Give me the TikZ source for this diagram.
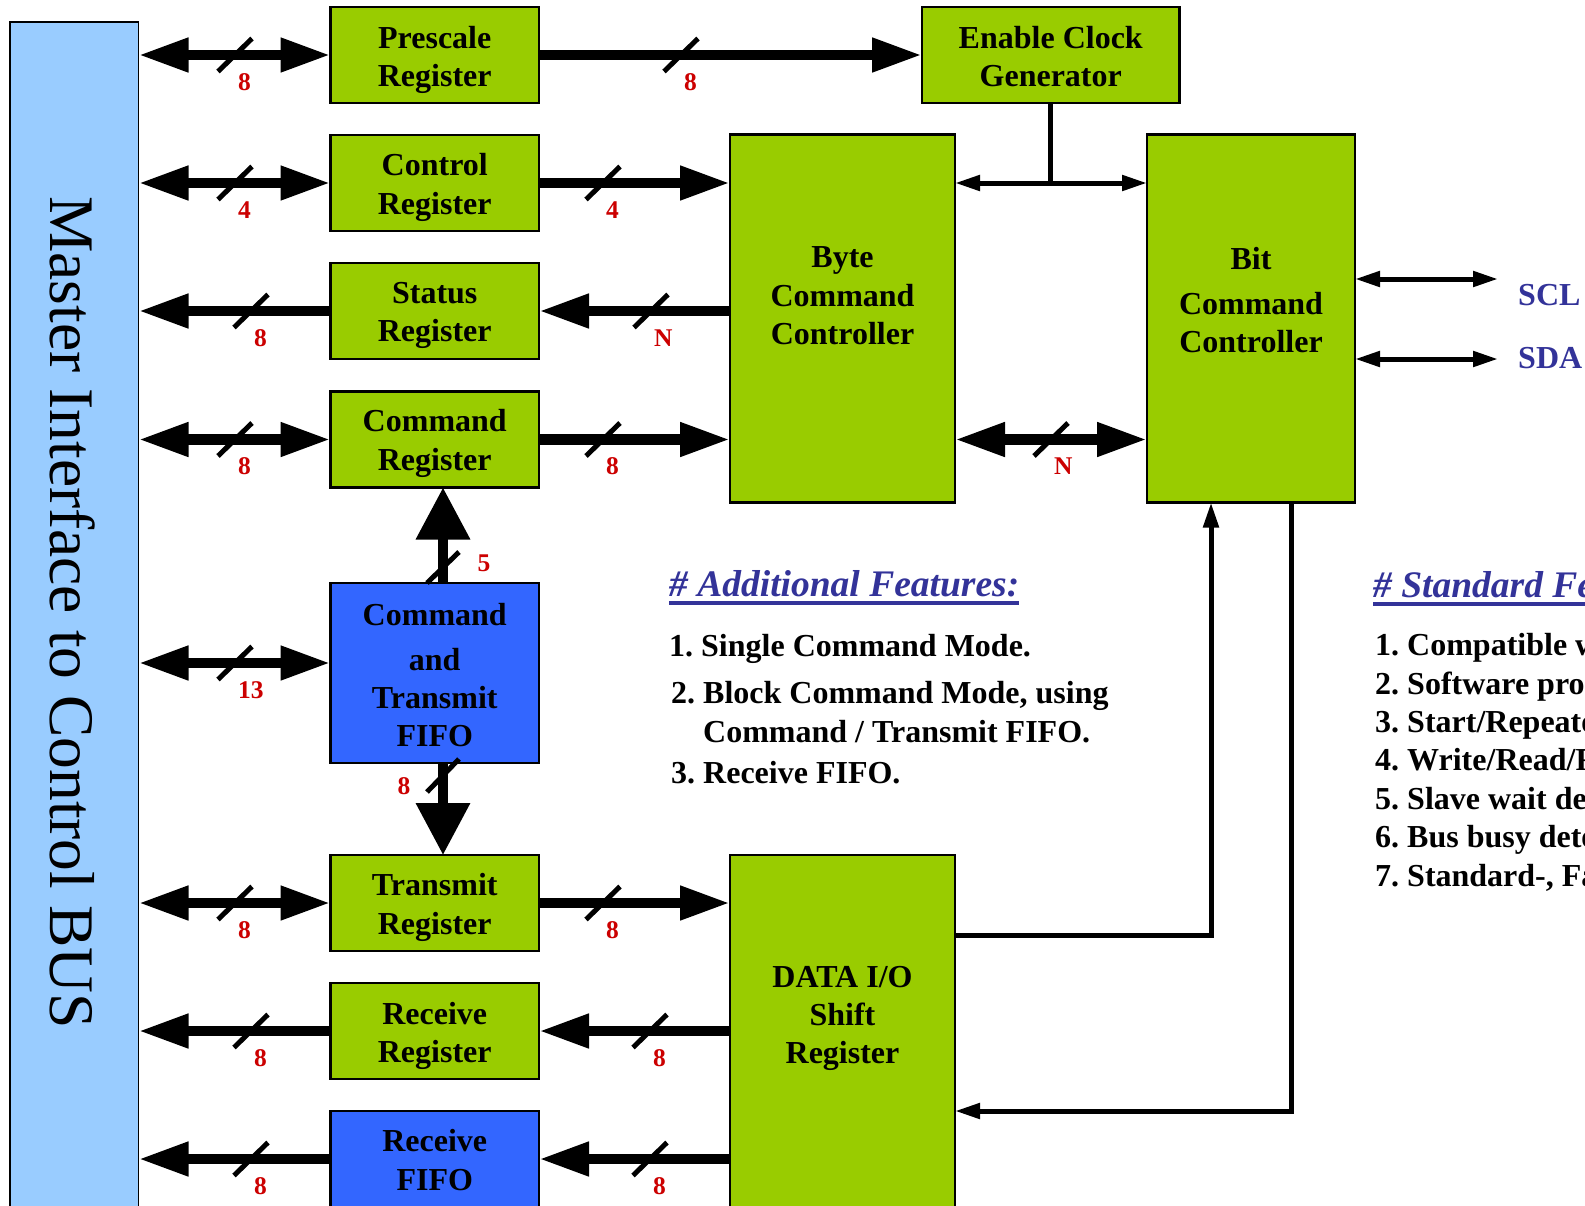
\documentclass[tikz,border=0pt]{standalone}
\usepackage{fontspec}
\setmainfont{Liberation Serif}
\usetikzlibrary{arrows.meta,calc}
\frenchspacing
\definecolor{boxgreen}{HTML}{99CC00}
\definecolor{boxblue}{HTML}{3366FF}
\definecolor{barblue}{HTML}{99CCFF}
\definecolor{featblue}{HTML}{333399}
\definecolor{numred}{HTML}{CC0000}
\newcommand\dgbox{\fontsize{32}{38.4}\selectfont\bfseries}
\newcommand\dglbl{\fontsize{25.5}{30}\selectfont\bfseries}
\newcommand\dgtitle{\fontsize{37.5}{45}\selectfont\bfseries\itshape}
\newcommand\dgbar{\fontsize{63.5}{70}\selectfont}
\tikzset{
  blk/.style={draw=black, line width=2.5pt, inner sep=0pt, outer sep=0pt},
  greenblk/.style={blk, fill=boxgreen},
  blueblk/.style={blk, fill=boxblue},
  reg/.style={minimum width=208.5pt, minimum height=96pt},
  btxt/.style={font=\dgbox, align=center, inner sep=0pt},
  feat/.style={font=\dgbox, anchor=base west, inner sep=0pt},
  ftitle/.style={font=\dgtitle, text=featblue, anchor=base west, inner sep=0pt},
  uline/.style={draw=featblue, line width=3.5pt},
  numlbl/.style={font=\dglbl, text=numred, inner sep=0pt},
  slashline/.style={line width=5pt},
  busboth/.style={line width=10.5pt, {Triangle[length=50pt,width=32pt]}-{Triangle[length=50pt,width=32pt]}},
  busright/.style={line width=10.5pt, -{Triangle[length=50pt,width=32pt]}},
  vbus/.style={line width=10pt, -{Triangle[length=52pt,width=52pt]}},
  wire/.style={line width=5pt},
  wireend/.style={line width=5pt, -{Triangle[length=25pt,width=15pt]}},
  wireboth/.style={line width=5pt, {Triangle[length=25pt,width=15pt]}-{Triangle[length=25pt,width=15pt]}},
  busmark/.pic={\draw[slashline] (-17,16.5) -- (17,-16.5); \node[numlbl, anchor=west] (-l) at (3,27) {#1};}
}
\begin{document}
\begin{tikzpicture}[x=1pt,y=-1pt]
\useasboundingbox (0,0) rectangle (1585,1205);
\clip (0,0) rectangle (1585,1205);
\fill[white] (0,0) rectangle (1585,1205);

% Master bus bar
\node[draw=black, line width=1.5pt, fill=barblue, minimum width=128.5pt, minimum height=1210pt,
      anchor=north west, inner sep=0pt, outer sep=0pt] (bar) at (10,22) {};
\node[font=\dgbar, rotate=-90, anchor=base, inner sep=0pt] (barT) at (50,612.5) {Master Interface to Control BUS};

% boxes
\node[greenblk, reg] (pre) at (434.75,55) {};
\node[greenblk, reg] (ctl) at (434.75,183) {};
\node[greenblk, reg] (sta) at (434.75,311) {};
\node[greenblk, reg] (cmd) at (434.75,439.5) {};
\node[blueblk, minimum width=208.5pt, minimum height=180pt] (fifo) at (434.75,673) {};
\node[greenblk, reg] (tx) at (434.75,903) {};
\node[greenblk, reg] (rx) at (434.75,1031) {};
\node[blueblk, minimum width=208.5pt, minimum height=110pt] (rxf) at (434.75,1166) {};
\node[greenblk, minimum width=257.5pt, minimum height=96pt] (ecg) at (1050.75,55) {};
\node[greenblk, minimum width=225pt, minimum height=368pt] (byte) at (842.5,318.5) {};
\node[greenblk, minimum width=208pt, minimum height=368pt] (bit) at (1251,318.5) {};
\node[greenblk, minimum width=225pt, minimum height=370pt] (data) at (842.5,1040) {};

% box texts
\node[btxt] (preT) at (434.75,59.9) {Prescale\\Register};
\node[btxt] (ctlT) at (434.75,187.3) {Control\\Register};
\node[btxt] (staT) at (434.75,315.6) {Status\\Register};
\node[btxt] (cmdT) at (434.75,443.6) {Command\\Register};
\node[btxt] (fifoT) at (434.75,675) {Command\\[6.5pt]and\\Transmit\\FIFO};
\node[btxt] (txT) at (434.75,907.6) {Transmit\\Register};
\node[btxt] (rxT) at (434.75,1036) {Receive\\Register};
\node[btxt] (rxfT) at (434.75,1160) {Receive\\FIFO};
\node[btxt] (ecgT) at (1050.75,56.6) {Enable Clock\\Generator};
\node[btxt] (byteT) at (842.5,296) {Byte\\Command\\Controller};
\node[btxt] (bitT) at (1251,300) {Bit\\[6.5pt]Command\\Controller};
\node[btxt] (dataT) at (842.5,1018.5) {DATA I/O\\Shift\\Register};

% helper coordinates
\coordinate (frow) at (0,663);
\coordinate (rrow) at (0,1159);
\coordinate (c1) at (1211,935);
\coordinate (c2) at (1291,1111);
\coordinate (scl) at (1498,279);
\coordinate (sda) at (1498,359);

% bus arrows
\draw[busboth] (pre.west -| bar.east) -- (pre.west);
\pic (m1) at (235,55) {busmark=8};
\draw[busright] (pre.east) -- (ecg.west);
\pic (m2) at (681,55) {busmark=8};

\draw[busboth] (ctl.west -| bar.east) -- (ctl.west);
\pic (m3) at (235,183) {busmark=4};
\draw[busright] (ctl.east) -- (ctl.east -| byte.west);
\pic (m4) at (603,183) {busmark=4};

\draw[busright] (sta.west) -- (sta.west -| bar.east);
\pic (m5) at (251,311) {busmark=8};
\draw[busright] (sta.east -| byte.west) -- (sta.east);
\pic (m6) at (651,311) {busmark=N};

\draw[busboth] (cmd.west -| bar.east) -- (cmd.west);
\pic (m7) at (235,439.5) {busmark=8};
\draw[busright] (cmd.east) -- (cmd.east -| byte.west);
\pic (m8) at (603,439.5) {busmark=8};

\draw[busboth] (byte.east |- cmd.east) -- (bit.west |- cmd.east);
\pic (m9) at (1051,439.5) {busmark=N};

\draw[busboth] (bar.east |- frow) -- (fifo.west |- frow);
\pic (m10) at (235,663) {busmark=13};

\draw[busboth] (tx.west -| bar.east) -- (tx.west);
\pic (m11) at (235,903) {busmark=8};
\draw[busright] (tx.east) -- (tx.east -| data.west);
\pic (m12) at (603,903) {busmark=8};

\draw[busright] (rx.west) -- (rx.west -| bar.east);
\pic (m13) at (251,1031) {busmark=8};
\draw[busright] (rx.east -| data.west) -- (rx.east);
\pic (m14) at (650,1031) {busmark=8};

\draw[busright] (rxf.west |- rrow) -- (bar.east |- rrow);
\pic (m15) at (251,1159) {busmark=8};
\draw[busright] (data.west |- rrow) -- (rxf.east |- rrow);
\pic (m16) at (650,1159) {busmark=8};

% vertical buses of the FIFO
\draw[vbus] ([xshift=8.25pt]fifo.north) -- ([xshift=8.25pt]cmd.south);
\draw[slashline] (427,583) -- (459,552);
\node[numlbl] (l5) at (484,563) {5};
\draw[vbus] ([xshift=8.25pt]fifo.south) -- ([xshift=8.25pt]tx.north);
\draw[slashline] (427,792) -- (459,759);
\node[numlbl] (l8v) at (404,786) {8};

% clock wires
\draw[wire] (ecg.south) -- (ecg.south |- ctl.east);
\draw[wireboth] (byte.east |- ctl.east) -- (bit.west |- ctl.east);

% data wires
\draw[wireend] (c1 -| data.east) -- (c1) -- (c1 |- bit.south);
\draw[wireend] (c2 |- bit.south) -- (c2) -- (c2 -| data.east);

% SCL / SDA
\draw[wireboth] (bit.east |- scl) -- (scl);
\draw[wireboth] (bit.east |- sda) -- (sda);
\node[font=\dgbox, text=featblue, anchor=base west, inner sep=0pt] (sclT) at (1518,305) {SCL};
\node[font=\dgbox, text=featblue, anchor=base west, inner sep=0pt] (sdaT) at (1518,368) {SDA};

% Additional features
\node[ftitle] (addT) at (669,596) {\# Additional Features:};
\draw[uline] ([yshift=-7pt]addT.base west) -- ([yshift=-7pt]addT.base east);
\node[feat] (a1) at (669,656) {1. Single Command Mode.};
\node[feat] (a2) at (671,703) {2. Block Command Mode, using};
\node[feat] (a2b) at (703,742) {Command / Transmit FIFO.};
\node[feat] (a3) at (671,783) {3. Receive FIFO.};

% Standard features (cut by the page edge, as in the reference)
\node[ftitle] (stdT) at (1373,597) {\# Standard Fea};
\draw[uline] ([yshift=-7pt]stdT.base west) -- ([yshift=-7pt]stdT.base east);
\node[feat] (s1) at (1375,655.5) {1. Compatible w};
\node[feat] (s2) at (1375,694) {2. Software prog};
\node[feat] (s3) at (1375,732.5) {3. Start/Repeated};
\node[feat] (s4) at (1375,770.5) {4. Write/Read/R};
\node[feat] (s5) at (1375,809.5) {5. Slave wait det};
\node[feat] (s6) at (1375,847.5) {6. Bus busy detec};
\node[feat] (s7) at (1375,886) {7. Standard-, Fas};
\end{tikzpicture}
\end{document}
